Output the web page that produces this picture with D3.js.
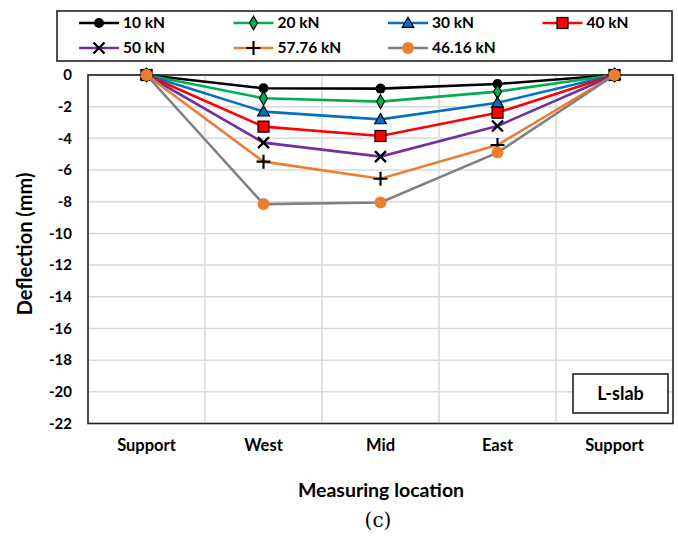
<html>
<head>
  <meta charset="utf-8">
  <script src="https://cdn.jsdelivr.net/npm/d3@7"></script>
  <style>
    body { margin:0; background:#fff; }
    text { font-family: Lato, "Open Sans", sans-serif; font-weight: bold; fill:#000; }
  </style>
</head>
<body>
<div id="chart"></div>
<script>

var locations = ["Support", "West", "Mid", "East", "Support"]
var loads = ["10 kN", "20 kN", "30 kN", "40 kN", "50 kN", "57.76 kN", "46.16 kN"]
var d10   = [0, -0.84, -0.86, -0.57, 0]
var d20   = [0, -1.47, -1.68, -1.05, 0]
var d30   = [0, -2.31, -2.80, -1.75, 0]
var d40   = [0, -3.26, -3.85, -2.38, 0]
var d50   = [0, -4.27, -5.15, -3.22, 0]
var d5776 = [0, -5.47, -6.55, -4.42, 0]
var d4616 = [0, -8.15, -8.05, -4.90, 0]
var yTicks = [0, -2, -4, -6, -8, -10, -12, -14, -16, -18, -20, -22]

var colors  = ["#000000", "#00b050", "#0070c0", "#ff0000", "#7030a0", "#ed7d31", "#808080"]
var markers = ["circle", "diamond", "triangle", "square", "x", "plus", "bigcircle"]
var series = [d10, d20, d30, d40, d50, d5776, d4616].map(function(v, i) {
  return { name: loads[i], values: v, color: colors[i], marker: markers[i] }
})

var W = 678, H = 544
var m = { left: 88, right: 5, top: 75, bottom: 120 }

var svg = d3.select("#chart").append("svg").attr("width", W).attr("height", H)

var x = d3.scaleBand().domain(d3.range(locations.length)).range([m.left, W - m.right])
var y = d3.scaleLinear().domain([-22, 0]).range([H - m.bottom - 0.5, m.top])
var cx = function(i) { return x(i) + x.bandwidth() / 2 }

// grid
svg.append("g").selectAll("line").data(yTicks).join("line")
  .attr("x1", m.left).attr("x2", W - m.right)
  .attr("y1", d => y(d)).attr("y2", d => y(d))
  .style("stroke", "#d9d9d9").style("stroke-width", 1.5)
svg.append("g").selectAll("line").data(d3.range(1, locations.length)).join("line")
  .attr("x1", d => x(d)).attr("x2", d => x(d))
  .attr("y1", m.top).attr("y2", y(-22))
  .style("stroke", "#d9d9d9").style("stroke-width", 1.5)

// frame
svg.append("rect").attr("x", m.left).attr("y", m.top)
  .attr("width", W - m.right - m.left).attr("height", y(-22) - m.top)
  .style("fill", "none").style("stroke", "#222").style("stroke-width", 1.6)

// y axis
var yAxis = d3.axisLeft(y).tickValues(yTicks).tickSize(0).tickPadding(16).tickFormat(d => String(d))
var gy = svg.append("g").attr("transform", "translate(" + m.left + ",0)").call(yAxis)
gy.select(".domain").remove()
gy.selectAll("text").style("font-size", "15px").style("font-family", "Lato, sans-serif")

// x axis
var xAxis = d3.axisBottom(x).tickFormat(i => locations[i]).tickSize(0).tickPadding(16)
var gx = svg.append("g").attr("transform", "translate(0," + y(-22) + ")").call(xAxis)
gx.select(".domain").remove()
gx.selectAll("text").style("font-size", "16.5px").style("font-family", "Lato, sans-serif")

svg.append("text").attr("transform", "translate(32,244) rotate(-90)")
  .attr("text-anchor", "middle").style("font-size", "20px").text("Deflection (mm)")
svg.append("text").attr("x", 381).attr("y", 497)
  .attr("text-anchor", "middle").style("font-size", "19.5px").text("Measuring location")
svg.append("text").attr("x", 378).attr("y", 527)
  .attr("text-anchor", "middle").style("font-size", "20px")
  .style("font-family", "'DejaVu Serif', serif").style("font-weight", "normal").text("(c)")

function drawMarker(g, type, px, py) {
  if (type == "circle") {
    g.append("circle").attr("cx", px).attr("cy", py).attr("r", 5).style("fill", "#000")
  } else if (type == "bigcircle") {
    g.append("circle").attr("cx", px).attr("cy", py).attr("r", 6).style("fill", "#ed7d31")
  } else if (type == "diamond") {
    g.append("path").attr("d", d3.symbol(d3.symbolDiamond, 55)()).attr("transform", "translate(" + px + "," + py + ")")
      .style("fill", "#00b050").style("stroke", "#000").style("stroke-width", 1.2)
  } else if (type == "triangle") {
    g.append("path").attr("d", d3.symbol(d3.symbolTriangle, 60)()).attr("transform", "translate(" + px + "," + (py + 1) + ")")
      .style("fill", "#0070c0").style("stroke", "#000").style("stroke-width", 1.2)
  } else if (type == "square") {
    g.append("rect").attr("x", px - 5.5).attr("y", py - 5.5).attr("width", 11).attr("height", 11)
      .style("fill", "#ff0000").style("stroke", "#000").style("stroke-width", 1.2)
  } else if (type == "x") {
    var s = 5.5
    g.append("path").attr("d", "M" + (px - s) + "," + (py - s) + "L" + (px + s) + "," + (py + s) + "M" + (px + s) + "," + (py - s) + "L" + (px - s) + "," + (py + s))
      .style("stroke", "#000").style("stroke-width", 2.4)
  } else if (type == "plus") {
    var s = 7
    g.append("path").attr("d", "M" + (px - s) + "," + py + "L" + (px + s) + "," + py + "M" + px + "," + (py - s) + "L" + px + "," + (py + s))
      .style("stroke", "#000").style("stroke-width", 2.2)
  }
}

var line = d3.line().x((d, i) => cx(i)).y(d => y(d))

series.forEach(function(s) {
  var g = svg.append("g")
  g.append("path").datum(s.values).attr("d", line)
    .style("fill", "none").style("stroke", s.color).style("stroke-width", 2.6)
  s.values.forEach(function(v, i) { drawMarker(g, s.marker, cx(i), y(v)) })
})

// legend
var leg = svg.append("g")
leg.append("rect").attr("x", 57).attr("y", 11).attr("width", 615).attr("height", 50)
  .style("fill", "#fff").style("stroke", "#222").style("stroke-width", 1.6)
series.forEach(function(s, i) {
  var col = i % 4, row = Math.floor(i / 4)
  var lx = 79 + col * 154.5, ly = 23 + row * 25
  leg.append("line").attr("x1", lx).attr("x2", lx + 40).attr("y1", ly).attr("y2", ly)
    .style("stroke", s.color).style("stroke-width", 2.6)
  drawMarker(leg, s.marker, lx + 20, ly)
  leg.append("text").attr("x", lx + 44).attr("y", ly).attr("dy", "0.35em")
    .style("font-size", "15.5px").text(s.name)
})

// label box
svg.append("rect").attr("x", 573).attr("y", 374).attr("width", 95).attr("height", 39)
  .style("fill", "#fff").style("stroke", "#222").style("stroke-width", 1.6)
svg.append("text").attr("x", 620.5).attr("y", 394).attr("dy", "0.35em")
  .attr("text-anchor", "middle").style("font-size", "18px").text("L-slab")

</script>
</body>
</html>
